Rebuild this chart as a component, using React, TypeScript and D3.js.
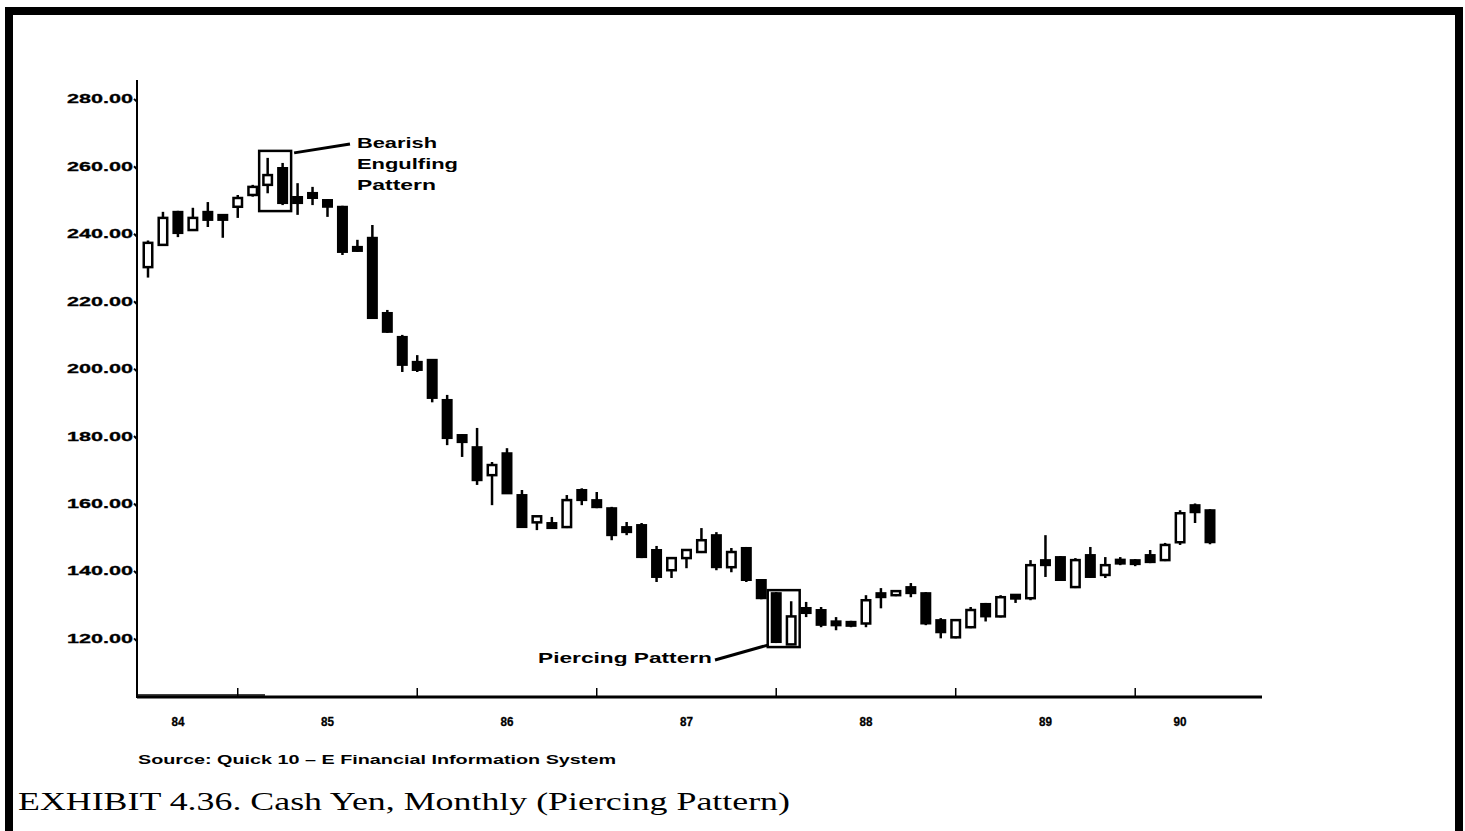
import React from "react";
import * as d3 from "d3";

// Monthly cash yen candles, July 1984 .. June 1990 (index 0 = first candle)
const opens = [230.1, 236.7, 246.5, 241.1, 246.5, 245.6, 248, 251.5, 254.5, 259.5, 250.9, 252.1, 250, 248, 236.1, 238.8, 216.5, 209.4, 202, 202.6, 190.7, 180.3, 176.7, 168.4, 174.9, 162.5, 154.4, 154.2, 153, 164, 161, 158.6, 153, 153.6, 146.2, 140.2, 143.8, 145.6, 150.6, 141.1, 146.8, 137.3, 133.4, 118.2, 129, 128.4, 124.9, 124.6, 124.4, 133.4, 132.8, 135.2, 133.4, 125.4, 120.3, 123.3, 130.2, 126.5, 132.8, 131.9, 143.2, 144.1, 135.2, 144.7, 138.8, 143.2, 142.9, 144.7, 143.2, 148.5, 159.5, 158];
const highs = [238, 246.5, 246.8, 247.7, 249.4, 245.8, 251.5, 254.5, 262.5, 261, 255, 253.9, 250.3, 248.3, 238.2, 242.6, 217.4, 210, 204, 202.8, 192.2, 180.5, 182.4, 172.3, 176.4, 164, 156.3, 156, 162.5, 164.5, 163.4, 159, 154.5, 154.2, 147.4, 144, 146.5, 152.7, 151.5, 146.8, 147.1, 137.6, 133.7, 131, 130.8, 129.3, 126.3, 125.2, 132.8, 134.9, 134.3, 136.4, 133.7, 126, 125.7, 129.3, 130.5, 132.8, 133, 143.2, 150.6, 144.4, 143.8, 147.1, 144.1, 144.1, 143.5, 146.2, 148.3, 158, 160, 158.3];
const lows = [227, 236.5, 239, 241, 242, 238.8, 244.7, 251, 252, 248.5, 245.6, 248.5, 245, 233.7, 234.6, 214.8, 210.6, 199, 199, 190, 177.3, 173.8, 165.5, 159.5, 162.9, 152.8, 152.1, 152.5, 152.7, 159.5, 158.6, 149.1, 150.6, 143.8, 136.7, 137.9, 140.8, 145.3, 140.2, 139.6, 136.7, 131.6, 118.6, 118, 126.3, 123.3, 122.4, 123.3, 123.3, 128.9, 132.5, 132.2, 123.9, 120, 120, 123, 125, 126.2, 130.5, 131.3, 138.2, 137, 134.9, 137.9, 137.9, 141.7, 141.4, 142.3, 142.9, 147.7, 154.2, 147.9];
const closes = [237.3, 244.7, 240.2, 244.7, 244.1, 244.1, 250.6, 253.9, 257.4, 249.1, 249.1, 250.6, 248, 234.6, 234.9, 215, 210.9, 201.1, 199.6, 191.3, 179.4, 178.2, 166.9, 171.4, 163, 153, 156.2, 152.7, 161, 161, 158.9, 150.6, 151.5, 144.1, 138.2, 143.8, 146.2, 149.1, 141.1, 145.6, 137.3, 131.9, 118.9, 126.5, 127.5, 124, 124, 124, 131.3, 132.2, 134, 133.4, 124.4, 121.8, 125.4, 128.4, 126.5, 132.2, 131.9, 141.7, 141.7, 137.3, 143.2, 138.2, 141.7, 142.3, 142.3, 142.6, 147.7, 157.1, 157.4, 148.5];

const yTickValues = [120, 140, 160, 180, 200, 220, 240, 260, 280];
const yearTickIdx = [6, 18, 30, 42, 54, 66];
const yearLabels = ["84", "85", "86", "87", "88", "89", "90"];
const yearLabelIdx = [2, 12, 24, 36, 48, 60, 69];

const engulfIdx = [8, 9];
const piercingIdx = [42, 43];

const W = 1465;
const H = 831;

export default function App() {
  const x = d3.scaleLinear().domain([0, opens.length - 1]).range([148, 1210]);
  const y = d3.scaleLinear().domain([102.6, 285.6]).range([697, 80]);
  const axisX = 137;
  const axisY = y(102.6);
  const bodyW = 11;
  const fmt = d3.format(".2f");

  const candles = opens.map((o, i) => ({
    i,
    o,
    h: highs[i],
    l: lows[i],
    c: closes[i],
  }));

  const boxFor = (idx: number[], padX: number, padTop: number, padBot: number) => {
    const hi = d3.max(idx, (k) => highs[k]) as number;
    const lo = d3.min(idx, (k) => lows[k]) as number;
    const x0 = x(idx[0]) - bodyW / 2 - padX;
    const x1 = x(idx[idx.length - 1]) + bodyW / 2 + padX;
    const y0 = y(hi) - padTop;
    const y1 = y(lo) + padBot;
    return { x0, x1, y0, y1 };
  };
  const eb = boxFor(engulfIdx, 3, 7, 6);
  const pb = boxFor(piercingIdx, 3, 2, 2);

  const sans = "'Liberation Sans', Arial, sans-serif";

  return (
    <svg
      width={W}
      height={H}
      style={{ position: "absolute", left: 0, top: 0, display: "block", background: "#fff" }}
    >
      <rect x={0} y={0} width={W} height={H} fill="#fff" />
      {/* frame */}
      <rect x={9} y={11} width={1450} height={840} fill="none" stroke="#000" strokeWidth={8} />

      {/* axes */}
      <line x1={axisX} x2={axisX} y1={80} y2={axisY + 1} stroke="#000" strokeWidth={2} />
      <line x1={axisX} x2={1262} y1={axisY} y2={axisY} stroke="#000" strokeWidth={3} />
      <line x1={axisX} x2={265} y1={axisY - 2} y2={axisY - 2} stroke="#000" strokeWidth={1.5} />

      {yTickValues.map((v) => (
        <g key={v}>
          <line x1={axisX - 3} x2={axisX} y1={y(v)} y2={y(v) + 3} stroke="#000" strokeWidth={2} />
          <text
            x={133}
            y={y(v)}
            textAnchor="end"
            dominantBaseline="central"
            fontFamily={sans}
            fontWeight="bold"
            fontSize={13}
            textLength={66}
            lengthAdjust="spacingAndGlyphs"
            stroke="#000"
            strokeWidth={0.3}
          >
            {fmt(v)}
          </text>
        </g>
      ))}

      {yearTickIdx.map((k) => (
        <line key={k} x1={x(k)} x2={x(k)} y1={axisY - 9} y2={axisY} stroke="#000" strokeWidth={1.5} />
      ))}
      {yearLabels.map((lab, k) => (
        <text
          key={lab}
          x={x(yearLabelIdx[k])}
          y={721}
          textAnchor="middle"
          dominantBaseline="central"
          fontFamily={sans}
          fontWeight="bold"
          fontSize={13}
          textLength={13}
          lengthAdjust="spacingAndGlyphs"
          stroke="#000"
          strokeWidth={0.3}
        >
          {lab}
        </text>
      ))}

      {/* candles */}
      {candles.map((d) => {
        const up = d.c >= d.o;
        const top = y(Math.max(d.o, d.c));
        const bot = y(Math.min(d.o, d.c));
        const hgt = Math.max(bot - top, 4);
        const cy = (top + bot) / 2;
        return (
          <g key={d.i}>
            <line x1={x(d.i)} x2={x(d.i)} y1={y(d.h)} y2={y(d.l)} stroke="#000" strokeWidth={2.5} />
            {up ? (
              <rect
                x={x(d.i) - bodyW / 2 + 1.25}
                y={cy - hgt / 2}
                width={bodyW - 2.5}
                height={hgt}
                fill="#fff"
                stroke="#000"
                strokeWidth={2.5}
              />
            ) : (
              <rect x={x(d.i) - bodyW / 2} y={cy - hgt / 2 - 1} width={bodyW} height={hgt + 2} fill="#000" />
            )}
          </g>
        );
      })}

      {/* Bearish engulfing annotation */}
      <rect x={eb.x0} y={eb.y0} width={eb.x1 - eb.x0} height={eb.y1 - eb.y0} fill="none" stroke="#000" strokeWidth={2.5} />
      <line x1={eb.x1 + 3} y1={eb.y0 + 2} x2={350} y2={144} stroke="#000" strokeWidth={3} />
      {[
        ["Bearish", 142, 80],
        ["Engulfing", 163, 101],
        ["Pattern", 184, 79],
      ].map(([t, ty, tl]) => (
        <text
          key={t as string}
          x={357}
          y={ty as number}
          dominantBaseline="central"
          fontFamily={sans}
          fontWeight="bold"
          fontSize={15}
          textLength={tl as number}
          lengthAdjust="spacingAndGlyphs"
        >
          {t}
        </text>
      ))}

      {/* Piercing annotation */}
      <rect x={pb.x0} y={pb.y0} width={pb.x1 - pb.x0} height={pb.y1 - pb.y0} fill="none" stroke="#000" strokeWidth={2.5} />
      <line x1={715} y1={660} x2={pb.x0} y2={pb.y1 - 2} stroke="#000" strokeWidth={3} />
      <text
        x={538}
        y={657}
        dominantBaseline="central"
        fontFamily={sans}
        fontWeight="bold"
        fontSize={15}
        textLength={174}
        lengthAdjust="spacingAndGlyphs"
      >
        Piercing Pattern
      </text>

      {/* source & caption */}
      <text
        x={138}
        y={759}
        dominantBaseline="central"
        fontFamily={sans}
        fontWeight="bold"
        fontSize={13}
        textLength={478}
        lengthAdjust="spacingAndGlyphs"
      >
        Source: Quick 10 – E Financial Information  System
      </text>
      <text
        x={18}
        y={810}
        fontFamily="'Liberation Serif', 'Times New Roman', serif"
        fontSize={25}
        textLength={772}
        lengthAdjust="spacingAndGlyphs"
      >
        EXHIBIT 4.36.  Cash Yen, Monthly (Piercing Pattern)
      </text>
    </svg>
  );
}
